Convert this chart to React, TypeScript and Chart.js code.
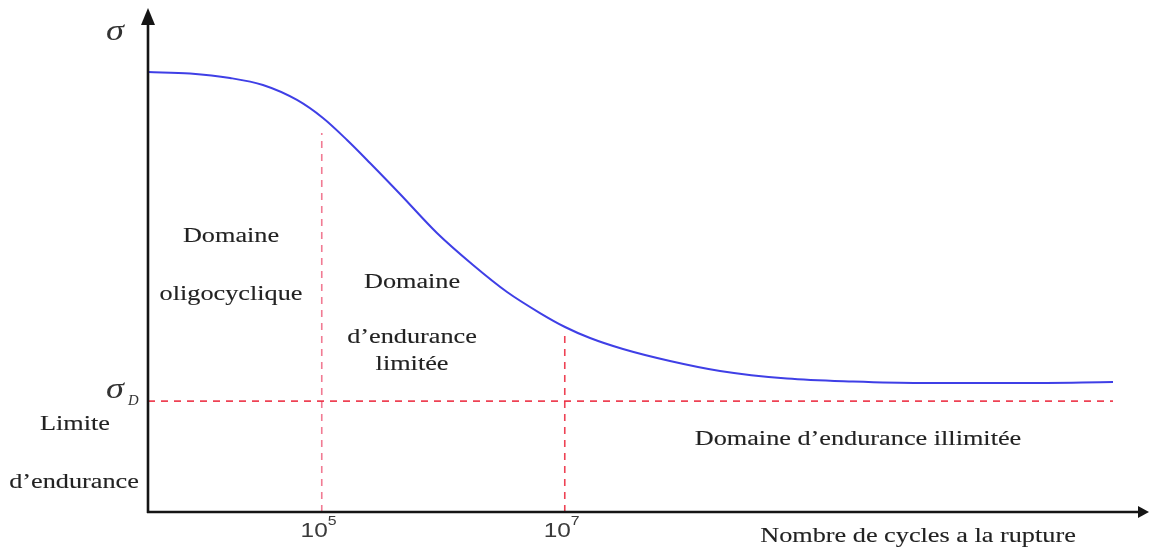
import React, { useEffect, useRef } from 'react';
import { Chart, registerables } from 'chart.js';

Chart.register(...registerables);

// log10(N) positions along the curve and stress values (schematic units)
const logCycles = [3.57, 3.916, 4.245, 4.516, 4.796, 5.01, 5.208, 5.397, 5.644, 5.948, 6.245, 6.525, 6.796, 7.002, 7.208, 7.479, 7.866, 8.278, 8.829, 9.372, 9.924, 10.747, 11.512];
const stress = [87.3, 87.0, 86.11, 84.72, 81.75, 78.17, 73.81, 69.25, 63.1, 55.36, 49.01, 43.65, 39.48, 36.71, 34.52, 32.34, 29.96, 27.98, 26.49, 25.89, 25.6, 25.6, 25.79];
const enduranceLimit = 22.0;
const boundaryLogs = [5, 7];
const boundaryTops = [75.2, 35.5];
const tickBase = ['10', '10'];
const tickExponents = ['5', '7'];
const regionTexts = ['Domaine', 'oligocyclique', 'Domaine', 'd\u2019endurance', 'limitée', 'Domaine d\u2019endurance illimitée'];
const regionX = [4.253, 4.253, 5.743, 5.743, 5.743, 9.413];
const regionY = [53.57, 42.06, 44.44, 33.53, 28.17, 13.29];
const xTitle = 'Nombre de cycles a la rupture';
const limitLabel = ['Limite', 'd\u2019endurance'];

const X_MIN = 3.57;
const X_MAX = 11.8;
const Y_MIN = 0;
const Y_MAX = 100;

const SERIF = "'Liberation Serif', 'Times New Roman', serif";
const SANS = "'Liberation Sans', Arial, sans-serif";
const SX = 1.25;

function stretchedText(ctx: CanvasRenderingContext2D, text: string, x: number, y: number, font: string, align: CanvasTextAlign, color: string, sx = SX, stroke = 0) {
  ctx.save();
  ctx.translate(x, y);
  ctx.scale(sx, 1);
  ctx.font = font;
  ctx.fillStyle = color;
  ctx.textAlign = align;
  ctx.textBaseline = 'alphabetic';
  ctx.fillText(text, 0, 0);
  if (stroke > 0) {
    ctx.strokeStyle = color;
    ctx.lineWidth = stroke;
    ctx.strokeText(text, 0, 0);
  }
  ctx.restore();
}

const overlayPlugin = {
  id: 'overlay',
  afterDatasetsDraw(chart: any) {
    const ctx: CanvasRenderingContext2D = chart.ctx;
    const { left, right, top, bottom } = chart.chartArea;
    const xs = chart.scales.x;
    const ys = chart.scales.y;
    const ink = '#151515';
    const textCol = '#222222';

    // axes
    ctx.save();
    ctx.strokeStyle = ink;
    ctx.fillStyle = ink;
    ctx.lineWidth = 2.6;
    ctx.beginPath();
    ctx.moveTo(left, bottom + 1);
    ctx.lineTo(left, top + 14);
    ctx.stroke();
    ctx.beginPath();
    ctx.moveTo(left - 1, bottom);
    ctx.lineTo(right - 8, bottom);
    ctx.stroke();
    ctx.beginPath();
    ctx.moveTo(left, top);
    ctx.lineTo(left - 7, top + 17);
    ctx.lineTo(left + 7, top + 17);
    ctx.closePath();
    ctx.fill();
    ctx.beginPath();
    ctx.moveTo(right + 1, bottom);
    ctx.lineTo(right - 10, bottom - 6);
    ctx.lineTo(right - 10, bottom + 6);
    ctx.closePath();
    ctx.fill();
    ctx.restore();

    // tick labels 10^5, 10^7
    boundaryLogs.forEach((v, i) => {
      const px = xs.getPixelForValue(v);
      stretchedText(ctx, tickBase[i], px + 6, bottom + 25, `20px ${SANS}`, 'right', '#3a3a3a', 1.22);
      stretchedText(ctx, tickExponents[i], px + 6, bottom + 13, `13px ${SANS}`, 'left', '#3a3a3a', 1.22);
    });

    // region texts
    regionTexts.forEach((t, i) => {
      stretchedText(ctx, t, xs.getPixelForValue(regionX[i]), ys.getPixelForValue(regionY[i]), `21px ${SERIF}`, 'center', textCol, SX, 0.12);
    });

    // sigma labels
    stretchedText(ctx, '\u03C3', left - 33, top + 32, `italic 29px ${SERIF}`, 'center', '#333');
    const pyD = ys.getPixelForValue(enduranceLimit);
    stretchedText(ctx, '\u03C3', left - 33, pyD - 3, `italic 29px ${SERIF}`, 'center', '#333');
    stretchedText(ctx, 'D', left - 20, pyD + 4, `italic 14px ${SERIF}`, 'left', '#333', 1.05);

    // limit label
    stretchedText(ctx, limitLabel[0], 75, pyD + 29, `21px ${SERIF}`, 'center', textCol, SX, 0.12);
    stretchedText(ctx, limitLabel[1], 74, pyD + 87, `21px ${SERIF}`, 'center', textCol, SX, 0.12);

    // x title
    stretchedText(ctx, xTitle, 918, bottom + 30, `21px ${SERIF}`, 'center', textCol, SX, 0.12);
  },
};

export default function App() {
  const ref = useRef<HTMLCanvasElement>(null);

  useEffect(() => {
    if (!ref.current) return;
    const red = 'rgba(236, 45, 65, 0.9)';
    const boundaryColors = ['rgba(238, 90, 120, 0.8)', red];
    const curve = logCycles.map((x, i) => ({ x, y: stress[i] }));
    const chart = new Chart(ref.current, {
      type: 'scatter',
      data: {
        datasets: [
          {
            data: [{ x: X_MIN, y: enduranceLimit }, { x: logCycles[logCycles.length - 1], y: enduranceLimit }],
            showLine: true,
            borderColor: red,
            borderWidth: 1.6,
            borderDash: [7, 6],
            pointRadius: 0,
          },
          ...boundaryLogs.map((b, i) => ({
            data: [{ x: b, y: Y_MIN }, { x: b, y: boundaryTops[i] }],
            showLine: true,
            borderColor: boundaryColors[i],
            borderWidth: 1.6,
            borderDash: [7, 6],
            pointRadius: 0,
          })),
          {
            data: curve,
            showLine: true,
            borderColor: '#3f3fe6',
            borderWidth: 2,
            pointRadius: 0,
            cubicInterpolationMode: 'monotone',
          },
        ],
      },
      options: {
        responsive: false,
        animation: false,
        layout: { padding: { left: 148, right: 2, top: 8, bottom: 36 } },
        plugins: { legend: { display: false }, tooltip: { enabled: false } },
        events: [],
        scales: {
          x: { type: 'linear', min: X_MIN, max: X_MAX, display: false },
          y: { type: 'linear', min: Y_MIN, max: Y_MAX, display: false },
        },
      },
      plugins: [overlayPlugin],
    } as any);
    return () => chart.destroy();
  }, []);

  return (
    <div style={{ position: 'fixed', left: 0, top: 0, width: 1150, height: 548, background: '#fff' }}>
      <canvas ref={ref} width={1150} height={548} />
    </div>
  );
}
